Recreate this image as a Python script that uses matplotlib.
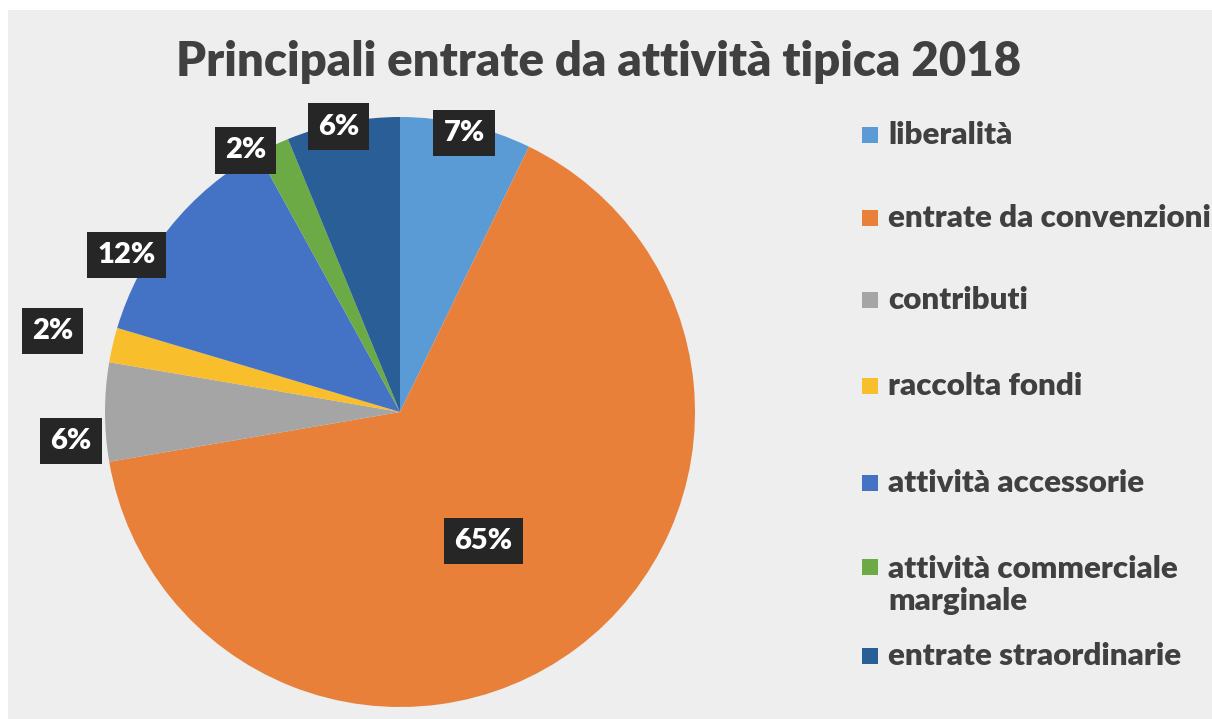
import matplotlib.pyplot as plt
from matplotlib.patches import Rectangle
import numpy as np

plt.rcParams['font.family'] = ['Lato', 'DejaVu Sans']

# dati (percentuali)
categorie = ["liberalità", "entrate da convenzioni", "contributi", "raccolta fondi",
             "attività accessorie", "attività commerciale\nmarginale", "entrate straordinarie"]
valori = [7.2, 65.1, 5.4, 1.9, 12.4, 1.8, 6.2]
etichette = ["7%", "65%", "6%", "2%", "12%", "2%", "6%"]
colori = ["#5B9BD5", "#E8803A", "#A5A5A5", "#F9BE2B", "#4472C4", "#6BAA45", "#2A5E96"]

# distanza delle etichette dal centro (in raggi) e spostamento angolare (gradi, antiorario)
dist_etichette = [0.97, 0.52, 1.12, 1.21, 1.07, 1.03, 0.99]
sposta_angolo = [0, -4, 5, 0, 9, 5, 1]

fig = plt.figure(figsize=(12.12, 7.19), dpi=100)
fig.patch.set_facecolor("#EEEEEE")
fig.patches.append(Rectangle((0, 1 - 10 / 719), 1, 10 / 719, transform=fig.transFigure,
                             facecolor="white", edgecolor="none", zorder=0))
fig.patches.append(Rectangle((0, 0), 8 / 1212, 1, transform=fig.transFigure,
                             facecolor="white", edgecolor="none", zorder=0))

ax = fig.add_axes([105 / 1212, 12 / 719, 590 / 1212, 590 / 719])
wedges, _ = ax.pie(valori, colors=colori, startangle=90, counterclock=False,
                   radius=1, wedgeprops=dict(linewidth=0))
ax.set_xlim(-1, 1)
ax.set_ylim(-1, 1)
ax.set_aspect("equal")
ax.axis("off")

for w, testo, d, da in zip(wedges, etichette, dist_etichette, sposta_angolo):
    ang = np.deg2rad((w.theta1 + w.theta2) / 2 + da)
    ax.text(d * np.cos(ang), d * np.sin(ang), testo, ha="center", va="center",
            color="white", fontsize=21, fontweight="heavy", clip_on=False,
            bbox=dict(boxstyle="square,pad=0.35", facecolor="#262626", edgecolor="none"))

fig.text(0.494, 0.914, "Principali entrate da attività tipica 2018", ha="center", va="center",
         fontsize=34, fontweight="heavy", color="#404040")

# legenda
leg_y = [135, 218, 300, 386, 483, 585, 656]
for col, lab, y in zip(colori, categorie, leg_y):
    righe = lab.count("\n")
    fig.patches.append(Rectangle((862 / 1212, 1 - (y - 18 * righe + 8) / 719), 16 / 1212, 16 / 719,
                                 transform=fig.transFigure, facecolor=col, edgecolor="none"))
    fig.text(888 / 1212, 1 - y / 719, lab, ha="left", va="center",
             fontsize=22.5, fontweight="heavy", color="#404040", linespacing=1.2)

fig.savefig("out.png", dpi=100, facecolor=fig.get_facecolor())
